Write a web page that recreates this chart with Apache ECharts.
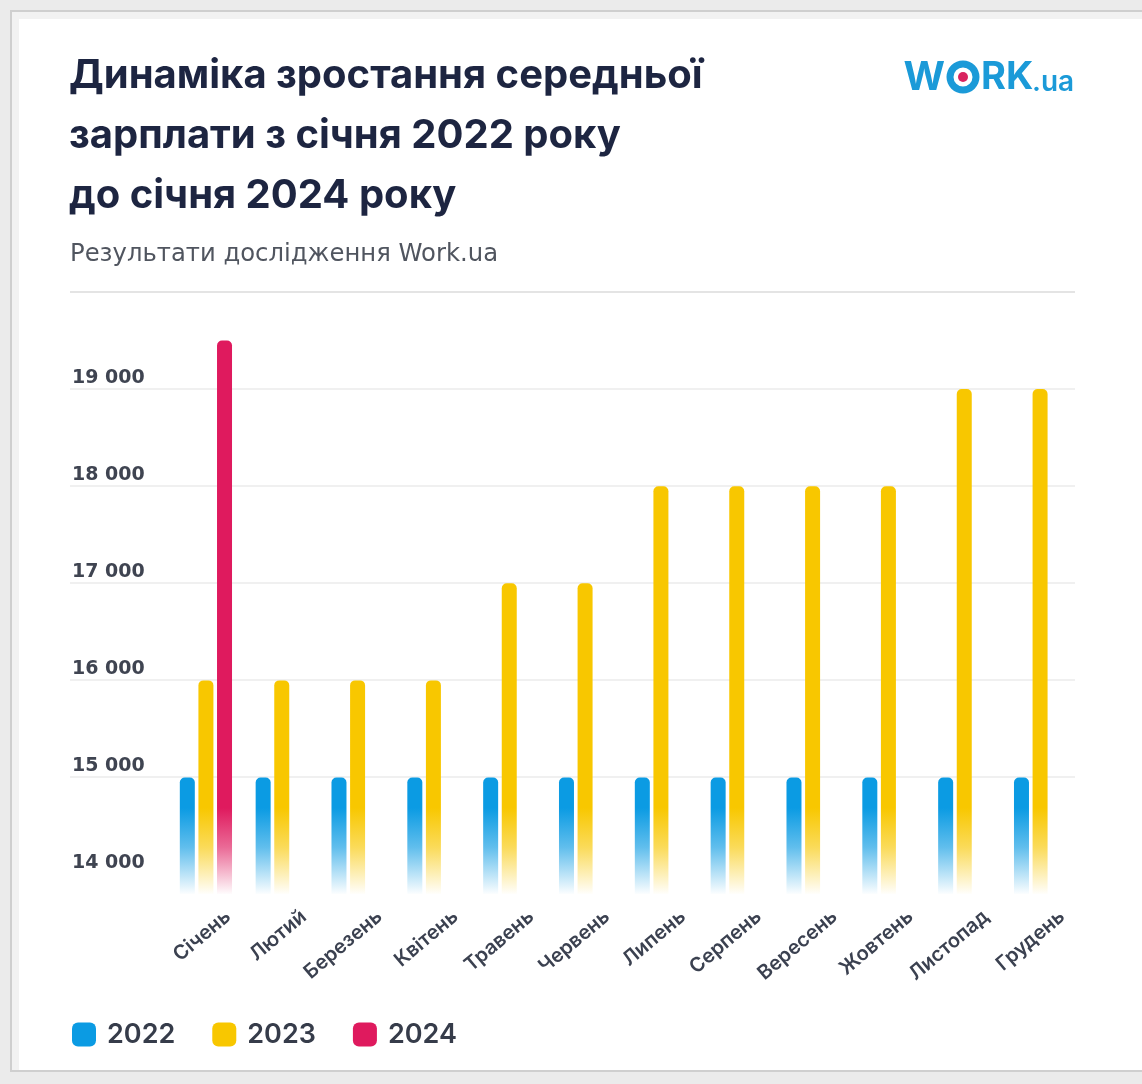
<!DOCTYPE html>
<html>
<head>
<meta charset="utf-8">
<script src="https://cdn.jsdelivr.net/npm/echarts@6/dist/echarts.min.js"></script>
<style>
  html, body { margin: 0; padding: 0; background: #ebebeb; }
  #chart { width: 1142px; height: 1084px; }
</style>
</head>
<body>
<div id="chart"></div>
<script>
// ---- data ----
const months = ['Січень', 'Лютий', 'Березень', 'Квітень', 'Травень', 'Червень',
                'Липень', 'Серпень', 'Вересень', 'Жовтень', 'Листопад', 'Грудень'];
const salary2022 = [15000, 15000, 15000, 15000, 15000, 15000, 15000, 15000, 15000, 15000, 15000, 15000];
const salary2023 = [16000, 16000, 16000, 16000, 17000, 17000, 18000, 18000, 18000, 18000, 19000, 19000];
const salary2024 = [19500, null, null, null, null, null, null, null, null, null, null, null];
const yTicks = [14000, 15000, 16000, 17000, 18000, 19000, 20000];
const seriesNames = ['2022', '2023', '2024'];

const titleText = 'Динаміка зростання середньої\nзарплати з січня 2022 року\nдо січня 2024 року';
const subtitleText = 'Результати дослідження Work.ua';

const colBlue = '#0b9be3', colYellow = '#f8c700', colPink = '#df1a5e';

function fade(hex) {
  const r = parseInt(hex.slice(1, 3), 16), g = parseInt(hex.slice(3, 5), 16), b = parseInt(hex.slice(5, 7), 16);
  return {
    type: 'linear', global: true, x: 0, y: 808, x2: 0, y2: 895,
    colorStops: [
      { offset: 0, color: hex },
      { offset: 0.45, color: 'rgba(' + r + ',' + g + ',' + b + ',0.65)' },
      { offset: 1, color: 'rgba(' + r + ',' + g + ',' + b + ',0)' }
    ]
  };
}

const chart = echarts.init(document.getElementById('chart'), null, { renderer: 'canvas' });
const FONT = 'Inter, "Noto Sans", sans-serif';
const WIDE = '"DejaVu Sans", Inter, sans-serif';
const textDark = '#1d2541';
const labelDark = '#3b4150';

const option = {
  backgroundColor: '#ebebeb',
  animation: false,
  textStyle: { fontFamily: FONT },
  title: [
    {
      text: titleText, left: 64, top: 41,
      textStyle: { fontSize: 40, fontWeight: 700, lineHeight: 60, color: textDark, fontFamily: FONT }
    },
    {
      text: subtitleText, left: 65, top: 238,
      textStyle: { fontSize: 24.3, fontWeight: 'normal', color: '#50555f', fontFamily: WIDE }
    }
  ],
  graphic: [
    { type: 'rect', z: -100, shape: { x: 11, y: 11, width: 1140, height: 1060 },
      style: { fill: '#f2f2f2', stroke: '#cfcfcf', lineWidth: 2 }, silent: true },
    { type: 'rect', z: -99, shape: { x: 19, y: 19, width: 1130, height: 1051 },
      style: { fill: '#ffffff' }, silent: true },
    { type: 'text', z: 10, style: { text: 'W', x: 945, y: 78, fill: '#1b9ad8',
      font: 'bold 40px ' + FONT, align: 'right', verticalAlign: 'middle' } },
    { type: 'ring', z: 10, shape: { cx: 963, cy: 77, r: 16.5, r0: 9.5 }, style: { fill: '#1b9ad8' } },
    { type: 'circle', z: 10, shape: { cx: 963, cy: 77, r: 5 }, style: { fill: '#d9245f' } },
    { type: 'text', z: 10, style: { text: 'RK', x: 981, y: 78, fill: '#1b9ad8',
      font: 'bold 38px ' + FONT, align: 'left', verticalAlign: 'middle' } },
    { type: 'text', z: 10, style: { text: '.ua', x: 1032, y: 83, fill: '#1b9ad8',
      font: '600 28px ' + FONT, align: 'left', verticalAlign: 'middle' } }
  ],
  legend: {
    left: 67, top: 1016,
    icon: 'roundRect', itemWidth: 24, itemHeight: 24, itemGap: 37,
    textStyle: { fontSize: 27, fontWeight: 600, color: '#363c4a', fontFamily: FONT, padding: [0, 0, 0, 6] },
    data: [
      { name: seriesNames[0], itemStyle: { color: colBlue } },
      { name: seriesNames[1], itemStyle: { color: colYellow } },
      { name: seriesNames[2], itemStyle: { color: colPink } }
    ]
  },
  grid: [
    { left: 168, right: 64, top: 292, bottom: 190 },
    { left: 70, right: 67, top: 292, bottom: 210 },
    { left: 190, right: 42, top: 292, bottom: 190 }
  ],
  xAxis: [
    {
      type: 'category', gridIndex: 0, data: months,
      axisLine: { show: false }, axisTick: { show: false }, axisLabel: { show: false }
    },
    { type: 'value', gridIndex: 1, show: false, min: 0, max: 1 },
    {
      type: 'category', gridIndex: 2, data: months,
      axisLine: { show: false }, axisTick: { show: false },
      axisLabel: { rotate: 40, margin: 20, fontSize: 20, fontWeight: 600, color: labelDark, fontFamily: FONT, interval: 0 }
    }
  ],
  yAxis: [
    {
      type: 'value', gridIndex: 0, min: 13800, max: 20000,
      axisLine: { show: false }, axisTick: { show: false }, axisLabel: { show: false }, splitLine: { show: false }
    },
    {
      type: 'value', gridIndex: 1, min: yTicks[0], max: yTicks[yTicks.length - 1], interval: 1000,
      axisLine: { show: false }, axisTick: { show: false },
      axisLabel: {
        inside: true, margin: 2, align: 'left', verticalAlign: 'bottom', padding: [0, 0, 1, 0],
        fontSize: 19, fontWeight: 'bold', fontFamily: WIDE,
        color: function (v) { return v === 14000 ? '#b5b8bf' : '#3f4451'; },
        formatter: function (v) { return v >= 20000 ? '' : String(v).replace(/\B(?=(\d{3})+(?!\d))/g, ' '); }
      },
      splitLine: {
        lineStyle: { width: 2, color: ['rgba(0,0,0,0)', '#f0f0f0', '#f0f0f0', '#f0f0f0', '#f0f0f0', '#f0f0f0', '#e4e4e4'] }
      }
    },
    { type: 'value', gridIndex: 2, show: false, min: 0, max: 1 }
  ],
  series: [
    { name: seriesNames[0], type: 'bar', xAxisIndex: 0, yAxisIndex: 0, data: salary2022,
      barWidth: 15, barGap: '24%', itemStyle: { color: fade(colBlue), borderRadius: [5, 5, 0, 0] } },
    { name: seriesNames[1], type: 'bar', xAxisIndex: 0, yAxisIndex: 0, data: salary2023,
      barWidth: 15, barGap: '24%', itemStyle: { color: fade(colYellow), borderRadius: [5, 5, 0, 0] } },
    { name: seriesNames[2], type: 'bar', xAxisIndex: 0, yAxisIndex: 0, data: salary2024,
      barWidth: 15, barGap: '24%', itemStyle: { color: fade(colPink), borderRadius: [5, 5, 0, 0] } }
  ]
};
chart.setOption(option);
</script>
</body>
</html>
